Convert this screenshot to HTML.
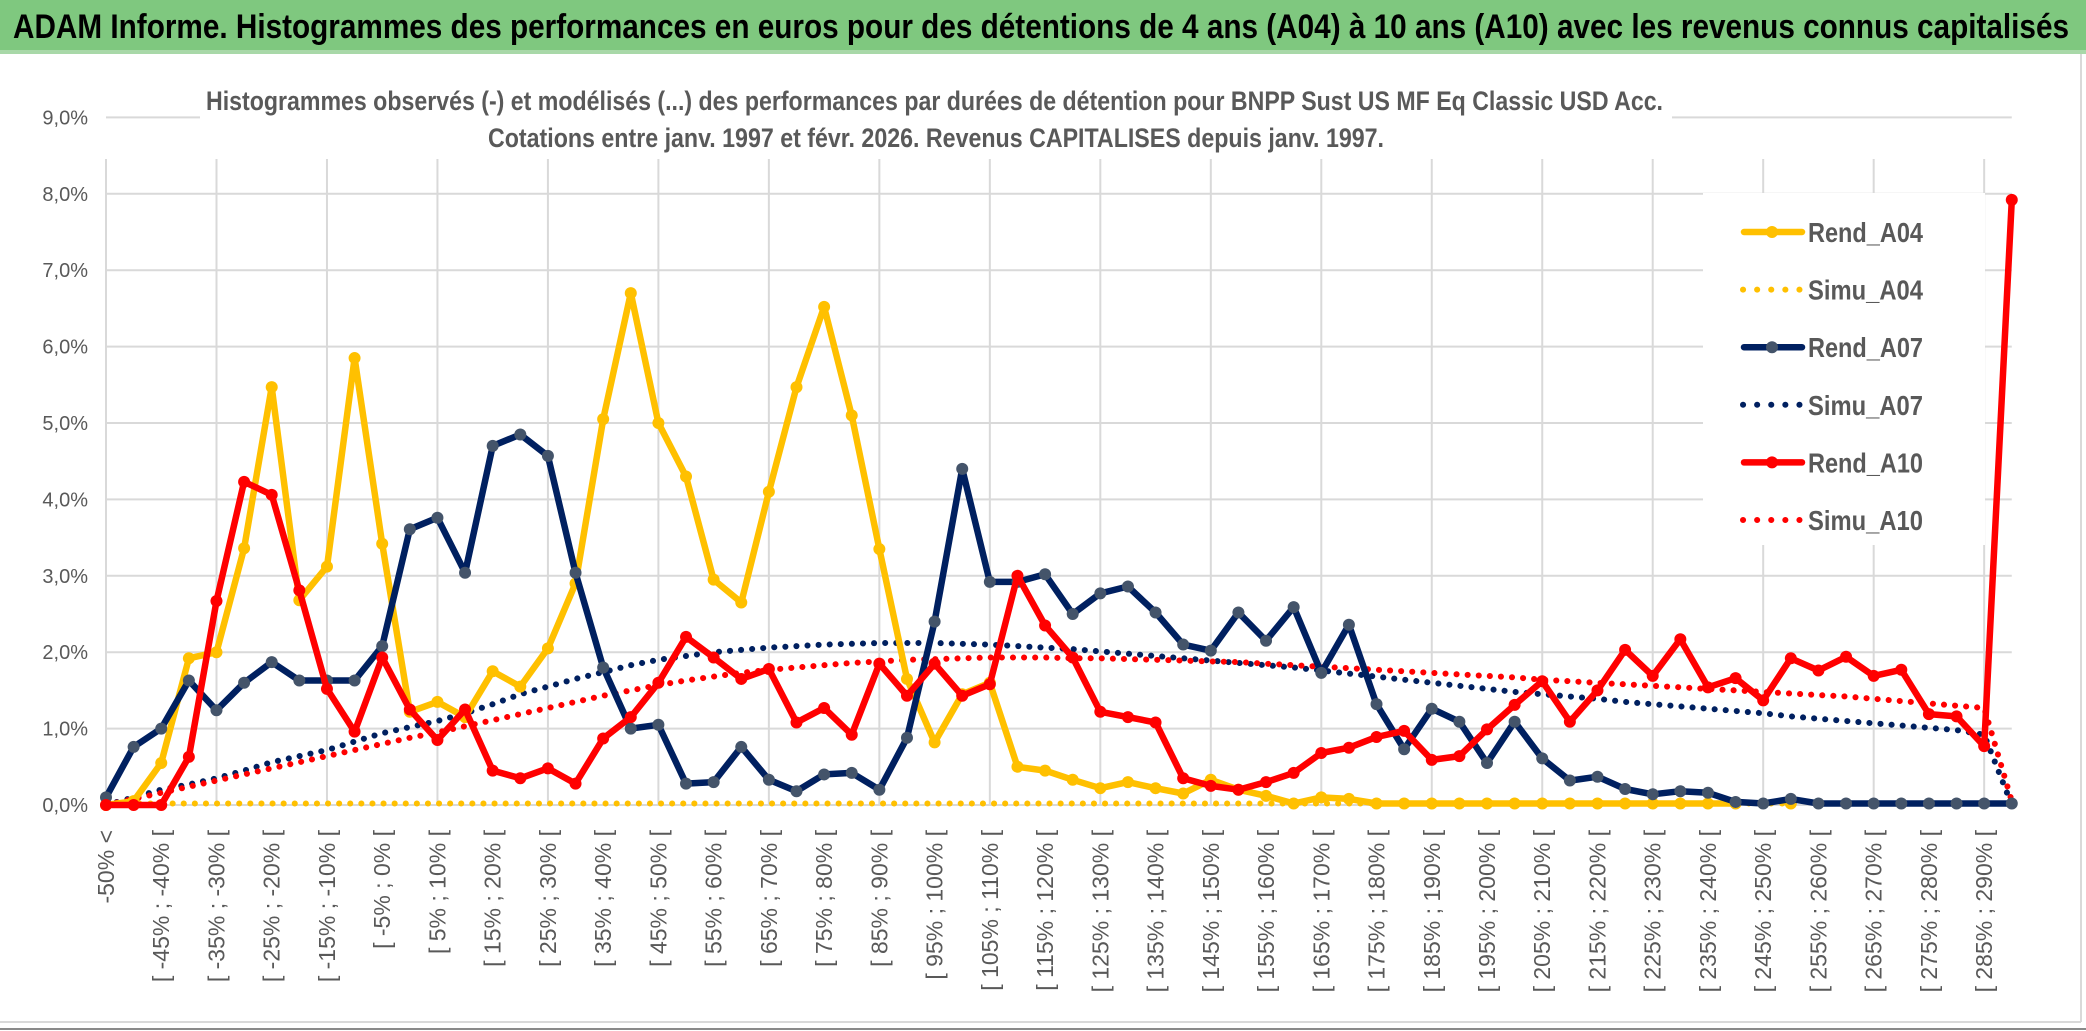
<!DOCTYPE html>
<html><head><meta charset="utf-8"><style>
html,body{margin:0;padding:0;background:#fff;}
svg{display:block;}
text{font-family:"Liberation Sans Narrow","Liberation Sans",sans-serif;}
</style></head><body>
<svg id="chart" width="2086" height="1031" viewBox="0 0 2086 1031">
<rect x="0" y="0" width="2086" height="1031" fill="#fff"/>
<rect x="0" y="0" width="2086" height="53" fill="#7fc87f"/>
<rect x="0" y="50" width="2086" height="4" fill="#a8d8a8"/>
<text x="13" y="38" font-size="34" font-weight="bold" fill="#000" textLength="2056" lengthAdjust="spacingAndGlyphs">ADAM Informe. Histogrammes des performances en euros pour des détentions de 4 ans (A04) à 10 ans (A10) avec les revenus connus capitalisés</text>
<line x1="2081" y1="54" x2="2081" y2="1022" stroke="#d9d9d9" stroke-width="2"/>
<line x1="0" y1="1022" x2="2081" y2="1022" stroke="#d9d9d9" stroke-width="2"/>
<line x1="0" y1="1029" x2="2086" y2="1029" stroke="#8a8a8a" stroke-width="2"/>
<g id="grid"></g>
<rect x="200" y="62" width="1472" height="96" fill="#fff"/>
<text x="206" y="110" font-size="27" font-weight="bold" fill="#595959" textLength="1457" lengthAdjust="spacingAndGlyphs">Histogrammes observés (-) et modélisés (...) des performances par durées de détention pour BNPP Sust US MF Eq Classic USD Acc.</text>
<text x="488" y="147" font-size="27" font-weight="bold" fill="#595959" textLength="896" lengthAdjust="spacingAndGlyphs">Cotations entre janv. 1997 et févr. 2026. Revenus CAPITALISES depuis janv. 1997.</text>
<g id="yaxis"></g>
<g id="xaxis"></g>
<rect x="1703" y="193" width="282" height="352" fill="#fff"/>
<g id="series"></g>
<g id="legend"></g>
</svg>
<script>
const yTicks = [0,1,2,3,4,5,6,7,8,9];
const yTickLabels = ["0,0%","1,0%","2,0%","3,0%","4,0%","5,0%","6,0%","7,0%","8,0%","9,0%"];
const rendA04 = [0,0.05,0.55,1.92,2.0,3.36,5.47,2.68,3.12,5.85,3.42,1.22,1.35,1.15,1.75,1.55,2.05,2.9,5.05,6.7,5.0,4.3,2.95,2.65,4.1,5.47,6.52,5.1,3.35,1.65,0.82,1.45,1.6,0.5,0.45,0.33,0.22,0.3,0.22,0.15,0.33,0.2,0.12,0.02,0.1,0.08,0.02,0.02,0.02,0.02,0.02,0.02,0.02,0.02,0.02,0.02,0.02,0.02,0.02,0.02,null,0.02,null,null,null,null,null,null,null,null];
const simuA04 = [0.02,0.02,0.02,0.02,0.02,0.02,0.02,0.02,0.02,0.02,0.02,0.02,0.02,0.02,0.02,0.02,0.02,0.02,0.02,0.02,0.02,0.02,0.02,0.02,0.02,0.02,0.02,0.02,0.02,0.02,0.02,0.02,0.02,0.02,0.02,0.02,0.02,0.02,0.02,0.02,0.02,0.02,0.02,0.02,0.02,0.02,0.02,0.02,0.02,0.02,0.02,0.02,0.02,0.02,0.02,0.02,0.02,0.02,0.02,0.02,0.02,0.02,null,null,null,null,null,null,null,null];
const rendA07 = [0.1,0.76,1.0,1.63,1.24,1.6,1.87,1.63,1.63,1.63,2.08,3.61,3.76,3.04,4.7,4.85,4.57,3.04,1.8,1.0,1.05,0.28,0.3,0.76,0.33,0.18,0.4,0.42,0.2,0.88,2.4,4.4,2.92,2.92,3.02,2.5,2.77,2.86,2.52,2.1,2.02,2.52,2.15,2.59,1.73,2.36,1.32,0.73,1.26,1.09,0.55,1.09,0.61,0.32,0.37,0.21,0.14,0.18,0.16,0.04,0.02,0.08,0.02,0.02,0.02,0.02,0.02,0.02,0.02,0.02];
const simuA07 = [0,0.1,0.2,0.27,0.35,0.45,0.56,0.64,0.72,0.83,0.94,1.02,1.1,1.2,1.32,1.45,1.55,1.65,1.74,1.83,1.9,1.95,2.0,2.03,2.06,2.08,2.1,2.11,2.12,2.12,2.12,2.11,2.1,2.08,2.06,2.04,2.01,1.98,1.95,1.92,1.89,1.86,1.83,1.8,1.76,1.72,1.68,1.64,1.6,1.56,1.52,1.48,1.45,1.42,1.39,1.35,1.32,1.29,1.26,1.23,1.2,1.16,1.13,1.1,1.07,1.04,1.01,0.98,0.92,0];
const rendA10 = [0,0,0,0.63,2.67,4.23,4.06,2.81,1.52,0.96,1.93,1.25,0.85,1.25,0.45,0.35,0.48,0.28,0.87,1.15,1.6,2.2,1.93,1.65,1.78,1.08,1.27,0.92,1.85,1.43,1.85,1.43,1.58,3.0,2.35,1.93,1.22,1.15,1.08,0.35,0.25,0.2,0.3,0.42,0.68,0.75,0.89,0.97,0.59,0.64,0.99,1.31,1.62,1.09,1.5,2.03,1.69,2.17,1.54,1.66,1.37,1.92,1.76,1.94,1.69,1.77,1.19,1.16,0.77,7.92];
const simuA10 = [0,0.08,0.16,0.24,0.32,0.4,0.48,0.56,0.64,0.72,0.8,0.88,0.95,1.03,1.11,1.19,1.27,1.35,1.43,1.5,1.57,1.63,1.68,1.73,1.77,1.8,1.83,1.86,1.88,1.9,1.91,1.92,1.93,1.93,1.93,1.92,1.92,1.91,1.9,1.89,1.88,1.87,1.85,1.83,1.81,1.79,1.77,1.75,1.73,1.71,1.69,1.67,1.64,1.62,1.6,1.58,1.56,1.54,1.52,1.5,1.48,1.46,1.44,1.42,1.39,1.36,1.33,1.3,1.27,0.05];
const categories = [];
categories.push("-50% <");
for (let i = 1; i < 70; i++) { const a = -50 + 5*(i-1); categories.push("[ " + a + "% ; " + (a+5) + "% ["); }

const NS = "http://www.w3.org/2000/svg";
const X0 = 106, STEP = 27.62, Y0 = 805, PER = 76.4;
function xScale(i){ return X0 + STEP*i; }
function yScale(v){ return Y0 - PER*v; }
function mk(tag, attrs, parent){ const e = document.createElementNS(NS, tag); for (const k in attrs) e.setAttribute(k, attrs[k]); parent.appendChild(e); return e; }

const grid = document.getElementById('grid');
yTicks.forEach(function(t){
  const l = mk('line', {x1:X0, x2:xScale(categories.length-1), y1:yScale(t), y2:yScale(t), stroke:'#d9d9d9', 'stroke-width':2}, grid);
  
  
});
for (let i = 0; i < categories.length; i += 4) {
  const l = mk('line', {x1:xScale(i), x2:xScale(i), y1:159, y2:Y0, stroke:'#d9d9d9', 'stroke-width':2}, grid);
  
  
}
const yaxis = document.getElementById('yaxis');
yTicks.forEach(function(t, k){
  const tx = mk('text', {x:88, y:yScale(t)+7, 'font-size':20, fill:'#595959', 'text-anchor':'end'}, yaxis);
  tx.textContent = yTickLabels[k];
  
  
});
const xaxis = document.getElementById('xaxis');
categories.forEach(function(c, i){
  if (i % 2 !== 0) return;
  const x = xScale(i) + 8;
  const tx = mk('text', {x:x, y:830, 'font-size':23, fill:'#595959', 'text-anchor':'end', transform:'rotate(-90 '+x+' 830)'}, xaxis);
  tx.textContent = c;
  
  
});

const series = document.getElementById('series');
function pathFor(vals){
  let d = '', pen = false;
  vals.forEach(function(v, i){
    if (v === null) { pen = false; return; }
    d += (pen ? 'L' : 'M') + xScale(i).toFixed(1) + ' ' + yScale(v).toFixed(1) + ' ';
    pen = true;
  });
  return d;
}
function dotted(vals, color, name){
  const p = mk('path', {d:pathFor(vals), fill:'none', stroke:color, 'stroke-width':6, 'stroke-linecap':'round', 'stroke-dasharray':'0.1 11'}, series);
  
  
}
function solid(vals, color, mColor, name){
  const p = mk('path', {d:pathFor(vals), fill:'none', stroke:color, 'stroke-width':6.5, 'stroke-linejoin':'round'}, series);
  
  
  vals.forEach(function(v, i){
    if (v === null) return;
    const c = mk('circle', {cx:xScale(i), cy:yScale(v), r:6, fill:mColor}, series);
    
    
  });
}
dotted(simuA04, '#ffc000', 'simu-a04-line');
dotted(simuA07, '#002060', 'simu-a07-line');
dotted(simuA10, '#ff0000', 'simu-a10-line');
solid(rendA04, '#ffc000', '#ffc000', 'rend-a04-line');
solid(rendA07, '#002060', '#44546a', 'rend-a07-line');
solid(rendA10, '#ff0000', '#ff0000', 'rend-a10-line');

const legend = document.getElementById('legend');
const legNames = ["Rend_A04","Simu_A04","Rend_A07","Simu_A07","Rend_A10","Simu_A10"];
const legColors = ["#ffc000","#ffc000","#002060","#002060","#ff0000","#ff0000"];
legNames.forEach(function(n, k){
  const y = 232 + 57.6*k;
  if (k % 2 === 0) {
    const l = mk('line', {x1:1744, x2:1802, y1:y, y2:y, stroke:legColors[k], 'stroke-width':6.5, 'stroke-linecap':'round'}, legend);
    
    
    const c = mk('circle', {cx:1772, cy:y, r:6, fill: k===2 ? '#44546a' : legColors[k]}, legend);
    
    
  } else {
    const l = mk('line', {x1:1743, x2:1803, y1:y, y2:y, stroke:legColors[k], 'stroke-width':6, 'stroke-linecap':'round', 'stroke-dasharray':'0.1 14'}, legend);
    
    
  }
  const t = mk('text', {x:1808, y:y+10, 'font-size':28, 'font-weight':'bold', fill:'#595959', textLength:115, lengthAdjust:'spacingAndGlyphs'}, legend);
  t.textContent = n;
  
  
});
</script>
</body></html>
